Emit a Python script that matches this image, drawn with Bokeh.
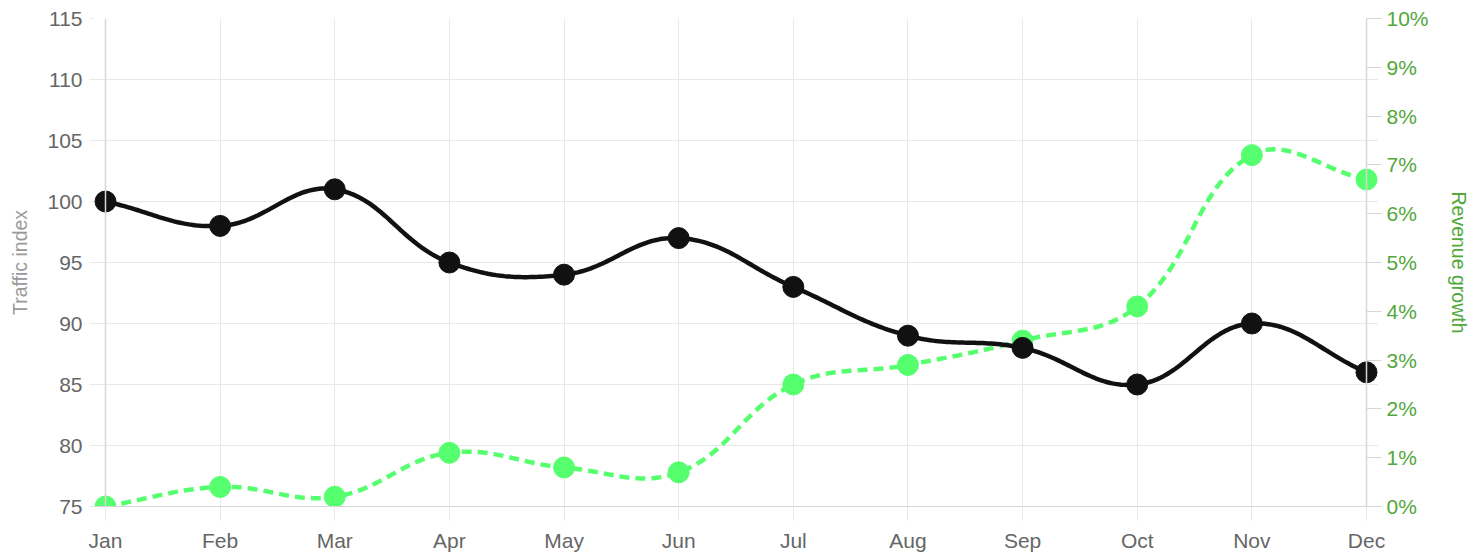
import numpy as np
from bokeh.plotting import figure
from bokeh.models import Range1d, LinearAxis, FixedTicker, PrintfTickFormatter, Span
from bokeh.embed import file_html
from bokeh.resources import INLINE

# ---- data ----
months = ["Jan", "Feb", "Mar", "Apr", "May", "Jun", "Jul", "Aug", "Sep", "Oct", "Nov", "Dec"]
traffic = [100, 98, 101, 95, 94, 97, 93, 89, 88, 85, 90, 86]
revenue = [0.0, 0.4, 0.2, 1.1, 0.8, 0.7, 2.5, 2.9, 3.4, 4.1, 7.2, 6.7]
traffic_ticks = [75, 80, 85, 90, 95, 100, 105, 110, 115]
revenue_ticks = [0, 1, 2, 3, 4, 5, 6, 7, 8, 9, 10]

# ---- layout constants ----
FRAME_W, FRAME_H = 1285, 488
PAD_X = 12  # px of horizontal room so end dots are not clipped
INNER_W = FRAME_W - 2 * PAD_X
PX_X = INNER_W / (len(months) - 1)
PX_L = FRAME_H / (traffic_ticks[-1] - traffic_ticks[0])
PX_R = FRAME_H / (revenue_ticks[-1] - revenue_ticks[0])

GRID = "#e8e8e8"
AXIS = "#d6d6d6"
GREEN_TXT = "#52a83a"
GREEN = "#55ff6e"
BLACK = "#111111"
FONT = "Liberation Sans"


def chart_spline(xs, ys, sx, sy, xlo, xhi, ylo, yhi, t=0.4, n=40):
    """Chart.js-style cubic interpolation computed in pixel units."""
    P = [(x * sx, y * sy) for x, y in zip(xs, ys)]
    m = len(P)
    cps = []
    for i in range(m):
        prev = P[i - 1] if i > 0 else P[i]
        cur = P[i]
        nxt = P[i + 1] if i < m - 1 else P[i]
        d01 = np.hypot(cur[0] - prev[0], cur[1] - prev[1])
        d12 = np.hypot(nxt[0] - cur[0], nxt[1] - cur[1])
        tot = d01 + d12
        s01 = d01 / tot if tot else 0
        s12 = d12 / tot if tot else 0
        fa, fb = t * s01, t * s12
        c1 = (cur[0] - fa * (nxt[0] - prev[0]), cur[1] - fa * (nxt[1] - prev[1]))
        c2 = (cur[0] + fb * (nxt[0] - prev[0]), cur[1] + fb * (nxt[1] - prev[1]))
        c1 = (min(max(c1[0], xlo * sx), xhi * sx), min(max(c1[1], ylo * sy), yhi * sy))
        c2 = (min(max(c2[0], xlo * sx), xhi * sx), min(max(c2[1], ylo * sy), yhi * sy))
        cps.append((c1, c2))
    X, Y = [], []
    tt = np.linspace(0, 1, n)
    for i in range(m - 1):
        p0 = np.array(P[i]); p3 = np.array(P[i + 1])
        p1 = np.array(cps[i][1]); p2 = np.array(cps[i + 1][0])
        for k, u in enumerate(tt):
            if i > 0 and k == 0:
                continue
            b = (1 - u) ** 3 * p0 + 3 * (1 - u) ** 2 * u * p1 + 3 * (1 - u) * u ** 2 * p2 + u ** 3 * p3
            X.append(b[0] / sx); Y.append(b[1] / sy)
    return X, Y


xidx = list(range(len(months)))
pad = PAD_X / PX_X

p = figure(
    frame_width=FRAME_W, frame_height=FRAME_H,
    x_range=Range1d(-pad, len(months) - 1 + pad),
    y_range=Range1d(traffic_ticks[0], traffic_ticks[-1]),
    output_backend="svg", toolbar_location=None,
    min_border_left=93, min_border_right=94, min_border_top=18, min_border_bottom=50,
    x_axis_location=None, y_axis_location=None,
)
p.outline_line_color = None
p.background_fill_color = "white"
p.border_fill_color = "white"
p.extra_y_ranges = {"rev": Range1d(revenue_ticks[0], revenue_ticks[-1])}

# bottom axis
xaxis = LinearAxis(ticker=FixedTicker(ticks=xidx))
xaxis.major_label_overrides = {i: m for i, m in enumerate(months)}
xaxis.axis_line_color = AXIS
xaxis.major_tick_line_color = GRID
xaxis.major_tick_out = 14
xaxis.major_tick_in = 0
xaxis.minor_tick_line_color = None
xaxis.major_label_standoff = 8
xaxis.major_label_text_font = FONT
xaxis.major_label_text_font_size = "21px"
xaxis.major_label_text_color = "#666666"
p.add_layout(xaxis, "below")

# left axis
yaxis = LinearAxis(ticker=FixedTicker(ticks=traffic_ticks), axis_label="Traffic index")
yaxis.axis_line_color = None
yaxis.major_tick_line_color = GRID
yaxis.major_tick_out = 4
yaxis.major_tick_in = 0
yaxis.minor_tick_line_color = None
yaxis.major_label_standoff = 7
yaxis.major_label_text_font = FONT
yaxis.major_label_text_font_size = "21px"
yaxis.major_label_text_color = "#666666"
yaxis.axis_label_text_font = FONT
yaxis.axis_label_text_font_size = "19.5px"
yaxis.axis_label_text_font_style = "normal"
yaxis.axis_label_text_color = "#999999"
yaxis.axis_label_standoff = 13
p.add_layout(yaxis, "left")

# right axis
raxis = LinearAxis(y_range_name="rev", ticker=FixedTicker(ticks=revenue_ticks),
                   axis_label="Revenue growth", formatter=PrintfTickFormatter(format="%d%%"))
raxis.axis_line_color = None
raxis.major_tick_line_color = AXIS
raxis.major_tick_out = 3
raxis.major_tick_in = PAD_X
raxis.minor_tick_line_color = None
raxis.major_label_standoff = 5
raxis.major_label_text_font = FONT
raxis.major_label_text_font_size = "21px"
raxis.major_label_text_color = GREEN_TXT
raxis.axis_label_text_font = FONT
raxis.axis_label_text_font_size = "19.5px"
raxis.axis_label_text_font_style = "normal"
raxis.axis_label_text_color = GREEN_TXT
raxis.axis_label_standoff = 16
p.add_layout(raxis, "right")

# grids
p.xgrid.ticker = FixedTicker(ticks=xidx)
p.ygrid.ticker = FixedTicker(ticks=traffic_ticks)
p.xgrid.grid_line_color = GRID
p.ygrid.grid_line_color = GRID
p.xgrid.grid_line_width = 1
p.ygrid.grid_line_width = 1

# axis lines at Jan / Dec
p.add_layout(Span(location=xidx[0], dimension="height", line_color=AXIS, line_width=1.5))
p.add_layout(Span(location=xidx[-1], dimension="height", line_color=AXIS, line_width=1.5))

# revenue (green dashed) first, so traffic draws on top
gx, gy = chart_spline(xidx, revenue, PX_X, PX_R, xidx[0], xidx[-1], revenue_ticks[0], revenue_ticks[-1])
p.line(gx, gy, y_range_name="rev", line_color=GREEN, line_width=4.5, line_dash="10 6")
p.scatter(xidx, revenue, y_range_name="rev", size=21, fill_color=GREEN, line_color=GREEN, line_width=1)

bx, by = chart_spline(xidx, traffic, PX_X, PX_L, xidx[0], xidx[-1], traffic_ticks[0], traffic_ticks[-1])
p.line(bx, by, line_color=BLACK, line_width=4.5)
p.scatter(xidx, traffic, size=21, fill_color=BLACK, line_color=BLACK, line_width=1)

open("out.html", "w").write(file_html(p, INLINE))
